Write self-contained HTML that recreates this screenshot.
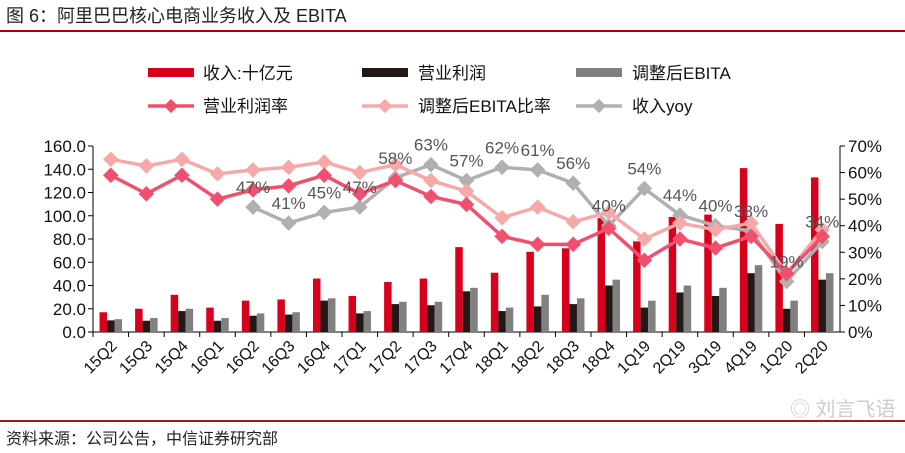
<!DOCTYPE html>
<html><head><meta charset="utf-8"><style>
body{margin:0;background:#fff;}
svg{display:block;font-family:"Liberation Sans","Noto Sans CJK SC",sans-serif;}
</style></head><body>
<svg id="c" width="905" height="453">
<text x="6" y="22" font-size="18" fill="#222">图 6：阿里巴巴核心电商业务收入及 EBITA</text>
<rect x="0" y="30" width="905" height="2" fill="#b30000"/>
<rect x="0" y="420" width="905" height="2" fill="#9c1c1c"/>
<text x="6" y="444" font-size="16" fill="#222">资料来源：公司公告，中信证券研究部</text>
<text x="790" y="416" font-size="20" fill="#ccc">◎ 刘言飞语</text>
<g id="legend">
<g><rect x="148" y="68" width="46" height="9" fill="#d9001b"/><text x="203" y="79" font-size="17" fill="#111">收入:十亿元</text></g>
<g><rect x="362" y="68" width="46" height="9" fill="#231815"/><text x="418" y="79" font-size="17" fill="#111">营业利润</text></g>
<g><rect x="576" y="68" width="46" height="9" fill="#808080"/><text x="632" y="79" font-size="17" fill="#111">调整后EBITA</text></g>
<g><line x1="148" y1="106" x2="194" y2="106" stroke="#f0506e" stroke-width="3.5"/><rect x="166" y="101" width="10" height="10" fill="#f0506e" transform="rotate(45 171 106)"/><text x="203" y="112" font-size="17" fill="#111">营业利润率</text></g>
<g><line x1="362" y1="106" x2="408" y2="106" stroke="#f7a8a8" stroke-width="3.5"/><rect x="380" y="101" width="10" height="10" fill="#f7a8a8" transform="rotate(45 385 106)"/><text x="418" y="112" font-size="17" fill="#111">调整后EBITA比率</text></g>
<g><line x1="576" y1="106" x2="622" y2="106" stroke="#b0b0b0" stroke-width="3.5"/><rect x="594" y="101" width="10" height="10" fill="#b0b0b0" transform="rotate(45 599 106)"/><text x="632" y="112" font-size="17" fill="#111">收入yoy</text></g>
</g>
<g id="plot"></g>
</svg>
<script>
const categories=["15Q2","15Q3","15Q4","16Q1","16Q2","16Q3","16Q4","17Q1","17Q2","17Q3","17Q4","18Q1","18Q2","18Q3","18Q4","1Q19","2Q19","3Q19","4Q19","1Q20","2Q20"];
const revenue=[17,20,32,21,27,28,46,31,43,46,73,51,69,72,98,78,99,101,141,93,133];
const opProfit=[10,9.7,18,9.7,14,15,27,16,24,23,35,18,22,24,40,21,34,31,50.6,20,45];
const ebita=[11,12,20,12,16,17,29,18,26,26,38,21,32,29,45,27,40,38,57.5,27,50.6];
const opMargin=[59,52,59,50,53.5,55,59,52,57,51,48,36,33,33,39,27,35,31.6,36,22,36];
const ebitaMargin=[65,62.5,65,59.5,61,62,64,60,63,57,53,43,47,41.5,45,35,41,38.5,41,22,38.5];
const revYoy=[null,null,null,null,47,41,45,47,58,63,57,62,61,56,40,54,44,40,38,19,34];
const leftTicks=["0.0","20.0","40.0","60.0","80.0","100.0","120.0","140.0","160.0"];
const rightTicks=["0%","10%","20%","30%","40%","50%","60%","70%"];

const NS="http://www.w3.org/2000/svg";
const g=document.getElementById('plot');
const X0=93,X1=840,Y0=332,Y1=146;
const bw=(X1-X0)/categories.length;
const yL=v=>Y0-(v/160)*(Y0-Y1);
const yR=v=>Y0-(v/70)*(Y0-Y1);
const xC=i=>X0+bw*(i+0.5);
function mk(t,a){const e=document.createElementNS(NS,t);for(const k in a)e.setAttribute(k,a[k]);g.appendChild(e);return e;}
let ax=mk('line',{x1:X0,y1:Y1,x2:X0,y2:Y0,stroke:'#000'});


ax=mk('line',{x1:X1,y1:Y1,x2:X1,y2:Y0,stroke:'#000'});


ax=mk('line',{x1:X0,y1:Y0,x2:X1,y2:Y0,stroke:'#000'});


leftTicks.forEach((t,i)=>{const v=parseFloat(t);const y=yL(v);
 mk('line',{x1:X0-5,y1:y,x2:X0,y2:y,stroke:'#000'});
 const e=mk('text',{x:X0-7,y:y+6,'font-size':17,'text-anchor':'end',fill:'#111'});e.textContent=t;
 
 });
rightTicks.forEach((t,i)=>{const v=parseFloat(t);const y=yR(v);
 mk('line',{x1:X1,y1:y,x2:X1+5,y2:y,stroke:'#000'});
 const e=mk('text',{x:X1+8,y:y+6,'font-size':17,fill:'#111'});e.textContent=t;
 
 });
categories.forEach((c,i)=>{const x=X0+bw*i;
 mk('line',{x1:x,y1:Y0,x2:x,y2:Y0+5,stroke:'#000'});
 const cx=xC(i)+7,cy=Y0+15;
 const e=mk('text',{x:cx,y:cy,'font-size':16,'text-anchor':'end',fill:'#111',transform:`rotate(-45 ${cx} ${cy})`});e.textContent=c;
 
 });
const w=7.5;
[[revenue,'#d9001b','bar-revenue',-w*1.5],[opProfit,'#231815','bar-op-profit',-w*0.5],[ebita,'#808080','bar-ebita',w*0.5]].forEach(([arr,col,nm,off])=>{
 arr.forEach((v,i)=>{const r=mk('rect',{x:xC(i)+off,y:yL(v),width:w,height:Y0-yL(v),fill:col});
 
 });});
function line(arr,col,nm){let pts=[];arr.forEach((v,i)=>{if(v!=null)pts.push([xC(i),yR(v)]);});
 const p=mk('polyline',{points:pts.map(p=>p.join(',')).join(' '),fill:'none',stroke:col,'stroke-width':3.5,'stroke-linejoin':'round'});
 
 
 pts.forEach(([x,y])=>{const d=mk('rect',{x:x-5.5,y:y-5.5,width:11,height:11,fill:col,transform:`rotate(45 ${x} ${y})`});
 
 });}
line(revYoy,'#b0b0b0','revenue-yoy');
line(ebitaMargin,'#f7a8a8','ebita-margin');
line(opMargin,'#f0506e','op-margin');
revYoy.forEach((v,i)=>{if(v==null)return;const t=mk('text',{x:xC(i),y:yR(v)-14,'font-size':17,'text-anchor':'middle',fill:'#555'});t.textContent=v+'%';
 
 });
</script>
</body></html>
